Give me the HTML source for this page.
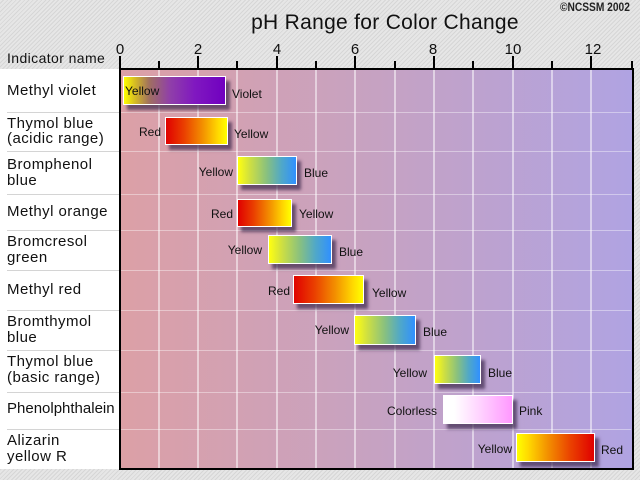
<!DOCTYPE html>
<html><head><meta charset="utf-8">
<style>
*{margin:0;padding:0;box-sizing:border-box}
html,body{width:640px;height:480px;overflow:hidden}
body{position:relative;background:#e2e2e2;background-image:repeating-linear-gradient(135deg,#e6e6e6 0px,#e6e6e6 2px,#d6d6d6 2px,#d6d6d6 3px);font-family:"Liberation Sans",Arial,sans-serif;color:#111}
.a{position:absolute}
.panel{left:0;top:69;width:120px;height:400px;background:#fff}
.plot{left:119px;top:68px;width:515px;height:402px;border:2px solid #000;background:linear-gradient(90deg,#dca0a6,#c6a2c2 50%,#b0a3e2)}
.g{width:2px;top:70px;height:398px;background:rgba(255,255,255,0.5)}
.h{height:1px;left:121px;width:510px;background:rgba(255,255,255,0.4)}
.hl{height:1px;left:7px;width:112px;background:#d4d4d4}
.t{width:2px;background:#000}
.tl{font-size:15px;line-height:16px;width:40px;text-align:center;top:42px}
.nm{font-size:15px;letter-spacing:0.45px;line-height:16px;left:7px;white-space:nowrap}
.bar{border:1px solid #fff;box-shadow:4px 5px 3px rgba(60,40,75,0.7)}
.lb{font-size:12px;line-height:14px;white-space:nowrap}
.r{text-align:right}
.ry{background:linear-gradient(90deg,#e00000 0%,#ea4000 30%,#f39000 60%,#ffd800 85%,#ffff00 100%)}
.yr{background:linear-gradient(90deg,#ffff00 0%,#ffd800 15%,#f39000 40%,#ea4000 70%,#e00000 100%)}
.yb{background:linear-gradient(90deg,#ffff10 0%,#d0e040 20%,#88c080 50%,#50a8c8 75%,#3090ff 100%)}
.cp{background:linear-gradient(90deg,#ffffff 0%,#fff 15%,#ffd0ff 55%,#ff98ff 100%)}
.mv{background:linear-gradient(90deg,#ffff00 0%,#d8c020 10%,#a07060 25%,#9040a8 45%,#8018c0 70%,#7000c0 100%)}
</style></head><body>
<div class="a panel" style="top:69px"></div>
<div class="a plot"></div>

<!-- gridlines -->
<div class="a g" style="left:158px"></div>
<div class="a g" style="left:197px"></div>
<div class="a g" style="left:236px"></div>
<div class="a g" style="left:276px"></div>
<div class="a g" style="left:315px"></div>
<div class="a g" style="left:354px"></div>
<div class="a g" style="left:394px"></div>
<div class="a g" style="left:433px"></div>
<div class="a g" style="left:472px"></div>
<div class="a g" style="left:512px"></div>
<div class="a g" style="left:551px"></div>
<div class="a g" style="left:590px"></div>

<!-- row separators -->
<div class="a h" style="top:112px"></div>
<div class="a h" style="top:151px"></div>
<div class="a h" style="top:194px"></div>
<div class="a h" style="top:230px"></div>
<div class="a h" style="top:270px"></div>
<div class="a h" style="top:310px"></div>
<div class="a h" style="top:350px"></div>
<div class="a h" style="top:392px"></div>
<div class="a h" style="top:429px"></div>
<div class="a hl" style="top:112px"></div>
<div class="a hl" style="top:151px"></div>
<div class="a hl" style="top:194px"></div>
<div class="a hl" style="top:230px"></div>
<div class="a hl" style="top:270px"></div>
<div class="a hl" style="top:310px"></div>
<div class="a hl" style="top:350px"></div>
<div class="a hl" style="top:392px"></div>
<div class="a hl" style="top:429px"></div>

<!-- ticks -->
<div class="a t" style="left:119px;top:56px;height:13px"></div>
<div class="a t" style="left:158px;top:61px;height:8px"></div>
<div class="a t" style="left:197px;top:56px;height:13px"></div>
<div class="a t" style="left:236px;top:61px;height:8px"></div>
<div class="a t" style="left:276px;top:56px;height:13px"></div>
<div class="a t" style="left:315px;top:61px;height:8px"></div>
<div class="a t" style="left:354px;top:56px;height:13px"></div>
<div class="a t" style="left:394px;top:61px;height:8px"></div>
<div class="a t" style="left:433px;top:56px;height:13px"></div>
<div class="a t" style="left:472px;top:61px;height:8px"></div>
<div class="a t" style="left:512px;top:56px;height:13px"></div>
<div class="a t" style="left:551px;top:61px;height:8px"></div>
<div class="a t" style="left:590px;top:56px;height:13px"></div>
<div class="a t" style="left:631px;top:61px;height:8px"></div>

<!-- tick labels -->
<div class="a tl" style="left:100px">0</div>
<div class="a tl" style="left:178px">2</div>
<div class="a tl" style="left:257px">4</div>
<div class="a tl" style="left:335px">6</div>
<div class="a tl" style="left:413px">8</div>
<div class="a tl" style="left:493px">10</div>
<div class="a tl" style="left:573px">12</div>

<!-- title -->
<div class="a" style="left:200px;width:370px;top:11px;text-align:center;font-size:21px;line-height:24px;letter-spacing:0.3px">pH Range for Color Change</div>
<div class="a" style="left:560px;top:1px;font-size:12px;line-height:13px;font-weight:bold;color:#222;transform:scaleX(0.85);transform-origin:left top;white-space:nowrap">©NCSSM 2002</div>
<div class="a" style="left:7px;top:50px;font-size:14px;line-height:16px;letter-spacing:0.4px">Indicator name</div>

<!-- names -->
<div class="a nm" style="top:83px">Methyl violet</div>
<div class="a nm" style="top:116px">Thymol blue</div>
<div class="a nm" style="top:131px">(acidic range)</div>
<div class="a nm" style="top:157px">Bromphenol</div>
<div class="a nm" style="top:173px">blue</div>
<div class="a nm" style="top:204px">Methyl orange</div>
<div class="a nm" style="top:234px">Bromcresol</div>
<div class="a nm" style="top:250px">green</div>
<div class="a nm" style="top:282px">Methyl red</div>
<div class="a nm" style="top:314px">Bromthymol</div>
<div class="a nm" style="top:330px">blue</div>
<div class="a nm" style="top:354px">Thymol blue</div>
<div class="a nm" style="top:370px">(basic range)</div>
<div class="a nm" style="top:401px;letter-spacing:0px">Phenolphthalein</div>
<div class="a nm" style="top:433px">Alizarin</div>
<div class="a nm" style="top:449px">yellow R</div>

<!-- bars -->
<div class="a bar mv" style="left:123px;top:76px;width:103px;height:29px"></div>
<div class="a lb" style="left:125px;top:84px">Yellow</div>
<div class="a lb" style="left:232px;top:87px">Violet</div>

<div class="a bar ry" style="left:165px;top:117px;width:63px;height:28px"></div>
<div class="a lb r" style="left:100px;width:61px;top:125px">Red</div>
<div class="a lb" style="left:234px;top:127px">Yellow</div>

<div class="a bar yb" style="left:237px;top:156px;width:60px;height:29px"></div>
<div class="a lb r" style="left:170px;width:63px;top:165px">Yellow</div>
<div class="a lb" style="left:304px;top:166px">Blue</div>

<div class="a bar ry" style="left:237px;top:199px;width:55px;height:28px"></div>
<div class="a lb r" style="left:170px;width:63px;top:207px">Red</div>
<div class="a lb" style="left:299px;top:207px">Yellow</div>

<div class="a bar yb" style="left:268px;top:235px;width:64px;height:29px"></div>
<div class="a lb r" style="left:199px;width:63px;top:243px">Yellow</div>
<div class="a lb" style="left:339px;top:245px">Blue</div>

<div class="a bar ry" style="left:293px;top:275px;width:71px;height:29px"></div>
<div class="a lb r" style="left:227px;width:63px;top:284px">Red</div>
<div class="a lb" style="left:372px;top:286px">Yellow</div>

<div class="a bar yb" style="left:354px;top:315px;width:62px;height:30px"></div>
<div class="a lb r" style="left:286px;width:63px;top:323px">Yellow</div>
<div class="a lb" style="left:423px;top:325px">Blue</div>

<div class="a bar yb" style="left:434px;top:355px;width:47px;height:29px"></div>
<div class="a lb r" style="left:364px;width:63px;top:366px">Yellow</div>
<div class="a lb" style="left:488px;top:366px">Blue</div>

<div class="a bar cp" style="left:443px;top:395px;width:70px;height:29px"></div>
<div class="a lb r" style="left:360px;width:77px;top:404px">Colorless</div>
<div class="a lb" style="left:519px;top:404px">Pink</div>

<div class="a bar yr" style="left:516px;top:433px;width:79px;height:29px"></div>
<div class="a lb r" style="left:449px;width:63px;top:442px">Yellow</div>
<div class="a lb" style="left:601px;top:443px">Red</div>
</body></html>
